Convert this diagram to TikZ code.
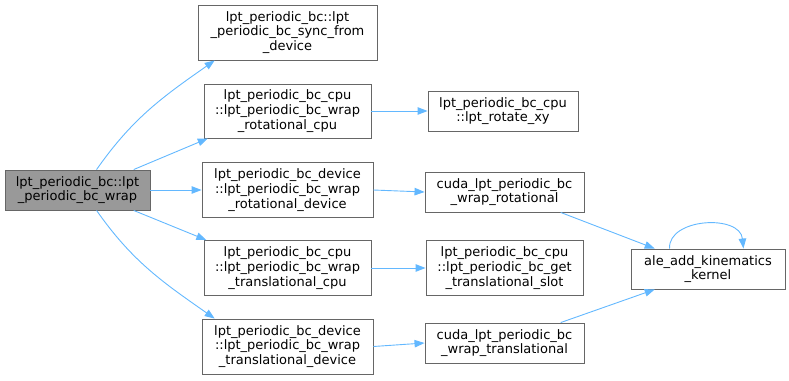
\documentclass[tikz,border=0pt]{standalone}
\usepackage{fontspec}
\setmainfont{DejaVu Sans}
\usetikzlibrary{arrows.meta}
\definecolor{edgeblue}{HTML}{63B8FF}
\definecolor{boxline}{HTML}{666666}
\definecolor{boxgray}{HTML}{999999}
\tikzset{
  fnstyle/.style={draw=boxline, line width=0.9pt, fill=white, align=center,
                  inner sep=1pt, font=\fontsize{13}{14.7}\selectfont},
  call/.style={-{Triangle[length=10pt,width=7.5pt]}, edgeblue, line width=0.9pt}
}
\newcommand{\fnbox}[5][40pt]{%
  \node[fnstyle, minimum width=#4, minimum height=#1] (#2) at (#3) {#5};}

\begin{document}
\begin{tikzpicture}[x=1pt, y=1pt]
  \useasboundingbox (0,0) rectangle (789,-380);
  \node[fnstyle, fill=boxgray, minimum width=145pt, minimum height=40pt] (wrap)
    at (77.5,-190) {lpt\_periodic\_bc::lpt\\\_periodic\_bc\_wrap};
  \fnbox[55pt]{sync}{287.5,-32.5}{179pt}{lpt\_periodic\_bc::lpt\\\_periodic\_bc\_sync\_from\\\_device}
  \fnbox[54pt]{rotcpu}{287.5,-111}{167pt}{lpt\_periodic\_bc\_cpu\\::lpt\_periodic\_bc\_wrap\\\_rotational\_cpu}
  \fnbox[55pt]{rotdev}{287.5,-190}{171pt}{lpt\_periodic\_bc\_device\\::lpt\_periodic\_bc\_wrap\\\_rotational\_device}
  \fnbox[55pt]{transcpu}{287.5,-268}{167pt}{lpt\_periodic\_bc\_cpu\\::lpt\_periodic\_bc\_wrap\\\_translational\_cpu}
  \fnbox[55pt]{transdev}{287.5,-346.5}{171pt}{lpt\_periodic\_bc\_device\\::lpt\_periodic\_bc\_wrap\\\_translational\_device}
  \fnbox{rotxy}{503,-111}{150pt}{lpt\_periodic\_bc\_cpu\\::lpt\_rotate\_xy}
  \fnbox{cudarot}{504.5,-192}{159pt}{cuda\_lpt\_periodic\_bc\\\_wrap\_rotational}
  \fnbox[55pt]{slot}{504.5,-268}{157pt}{lpt\_periodic\_bc\_cpu\\::lpt\_periodic\_bc\_get\\\_translational\_slot}
  \fnbox{cudatrans}{504.5,-343}{159pt}{cuda\_lpt\_periodic\_bc\\\_wrap\_translational}
  \fnbox{kernel}{708,-269}{154pt}{ale\_add\_kinematics\\\_kernel}
  % calls from the wrap routine
  \draw[call] (wrap.47) to[out=55, in=215] (sync.201);
  \draw[call] (wrap.20) -- (rotcpu.199);
  \draw[call] (wrap.east) -- (rotdev.west);
  \draw[call] (wrap.-20) -- (transcpu.161);
  \draw[call] (wrap.-47) to[out=-55, in=145] (transdev.159);
  % second level
  \draw[call] (rotcpu.east) -- (rotxy.west);
  \draw[call] (rotdev.east) -- (cudarot.west);
  \draw[call] (transcpu.east) -- (slot.west);
  \draw[call] (transdev.east) -- (cudatrans.west);
  \draw[call] (cudarot.-20.5) -- (kernel.159);
  \draw[call] (cudatrans.20.5) -- (kernel.201);
  \draw[call] (kernel.152) .. controls (668,-218) and (740,-214) .. (kernel.30);
\end{tikzpicture}
\end{document}
